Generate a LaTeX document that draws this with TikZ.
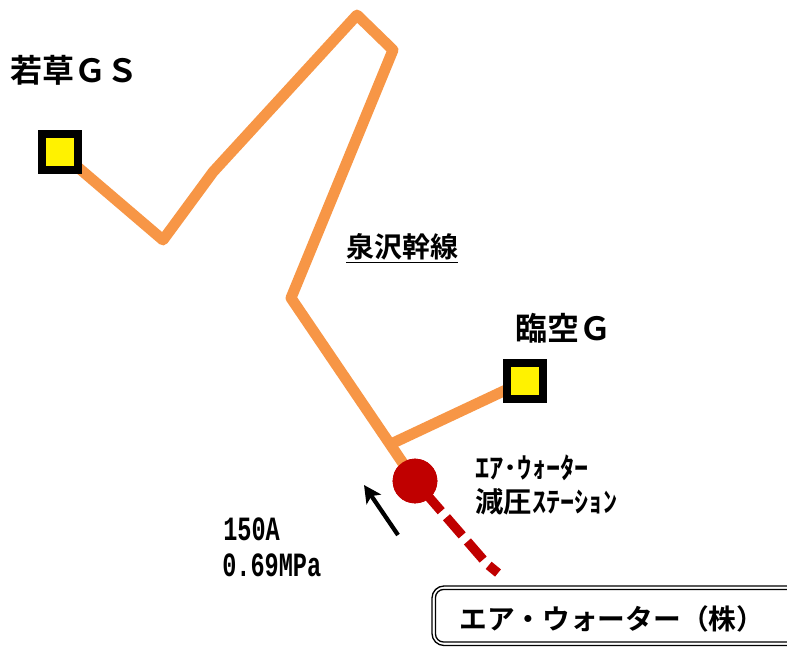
\documentclass[tikz,border=0pt]{standalone}
\usepackage{fontspec}
\usepackage{graphicx}
\usetikzlibrary{arrows.meta}
\newfontfamily\jpb[BoldFont={Noto Sans CJK JP Bold}]{Noto Sans CJK JP}
\newfontfamily\monob{Liberation Mono Bold}
\definecolor{pipe}{HTML}{F79646}
\definecolor{redpipe}{HTML}{C00000}
\tikzset{
  gs/.style={draw=black,fill=yellow,line width=6pt,minimum size=27pt,inner sep=0pt,shape=rectangle},
  pipeline/.style={draw=pipe,line width=8.2pt,line join=round,line cap=round},
  lab/.style={inner sep=0pt,anchor=west,text=black},
  big/.style={lab,font=\jpb\bfseries\fontsize{24pt}{28pt}\selectfont},
  midd/.style={lab,font=\jpb\bfseries\fontsize{21.3pt}{25pt}\selectfont},
  nums/.style={lab,font=\monob\fontsize{17pt}{20pt}\selectfont},
}
\begin{document}
\begin{tikzpicture}[x=0.75pt,y=-0.75pt]
\useasboundingbox (0,0) rectangle (787,646);
\clip (0,0) rectangle (787,646);
\coordinate (a1) at (163,240);
\coordinate (a2) at (213,172);
\coordinate (a3) at (357,15);
\coordinate (a4) at (393,50);
\coordinate (a5) at (291,298);
\coordinate (j) at (393,443);
\coordinate (d1) at (487,564);
\coordinate (d2) at (498,573);
\coordinate (ar1) at (398,535);
\coordinate (ar2) at (364,485);
\node[gs] (wg) at (60,152) {};
\node[gs] (rg) at (525,381) {};
\node[circle,fill=redpipe,minimum size=33.5pt,inner sep=0pt] (st) at (415,481) {};
\draw[pipeline] (wg.center) -- (a1) -- (a2) -- (a3) -- (a4) -- (a5) -- (st.center);
\draw[pipeline] (j) -- (rg.center);
\draw[draw=redpipe,line width=7pt,dash pattern=on 18pt off 6pt,dash phase=12pt] (st.center) -- (d1) -- (d2);
\node[gs] at (wg.center) {};
\node[gs] at (rg.center) {};
\node[circle,fill=redpipe,minimum size=33.5pt,inner sep=0pt] at (st.center) {};
\draw[line width=3.2pt,-{Stealth[length=13pt,width=13pt,inset=3pt]}] (ar1) -- (ar2);
\node[big] (t1) at (10,70) {若草ＧＳ};
\node[big] (t2) at (515,328) {臨空Ｇ};
\node[lab,font=\jpb\bfseries\fontsize{21pt}{25pt}\selectfont] (t3) at (346,248) {\underline{泉沢幹線}};
\node[midd] (t4) at (475,468) {ｴｱ･ｳｫｰﾀｰ};
\node[midd] (t5) at (475,502) {減圧ｽﾃｰｼｮﾝ};
\node[nums] (t6) at (223,529) {\scalebox{1.04}[1.5]{150A}};
\node[nums] (t7) at (222,565) {\scalebox{1.04}[1.5]{0.69MPa}};
\draw[rounded corners=9pt,line width=1pt,draw=black] (432,586) rectangle (800,645.5);
\draw[rounded corners=6pt,line width=1pt,draw=black] (435.5,589.5) rectangle (796,642);
\node[lab,font=\jpb\bfseries\fontsize{20.8pt}{24pt}\selectfont] (t8) at (459,619) {エア・ウォーター（株）};
\end{tikzpicture}
\end{document}
